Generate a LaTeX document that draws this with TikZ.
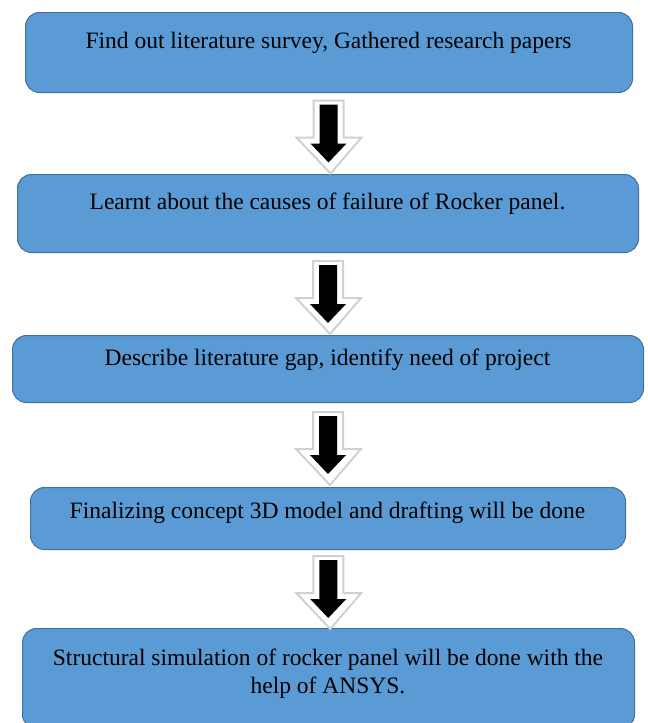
\documentclass[tikz,border=0pt]{standalone}
\usepackage{fontspec}
\setmainfont{Liberation Serif}
\usetikzlibrary{calc}

\definecolor{boxblue}{RGB}{91,155,213}
\definecolor{boxedge}{RGB}{65,113,156}

\tikzset{
  stage/.style={draw=boxedge, line width=1pt, fill=boxblue, rounded corners=14pt,
    anchor=north west, inner sep=0pt},
  stagetext/.style={anchor=base, align=center, inner sep=0pt,
    font=\fontsize{23.5}{28}\selectfont},
  arrowshade/.style={fill=white, draw=black!18, line width=2pt, line join=miter},
  pics/dnarrow/.style={code={
    \filldraw[arrowshade] (-15,-33) -- (15,-33) -- (15,4) -- (33,4) -- (2,40)
      -- (-32,4) -- (-15,4) -- cycle;
    \fill[black] (-9,-29) -- (9,-29) -- (9,10) -- (18,10) -- (0,29)
      -- (-18,10) -- (-9,10) -- cycle;
  }}
}

\begin{document}
\begin{tikzpicture}[x=1pt, y=-1pt]
\clip (0,0) rectangle (648,723);
\fill[white] (0,0) rectangle (648,723);

\node[stage, minimum width=607pt, minimum height=80pt] (box1) at (25,12) {};
\node[stagetext] (t1) at (328.5,48) {Find out literature survey, Gathered research papers};

\node[stage, minimum width=621pt, minimum height=78pt] (box2) at (17,174) {};
\node[stagetext] (t2) at (327.5,209) {Learnt about the causes of failure of Rocker panel.};

\node[stage, minimum width=631pt, minimum height=67pt] (box3) at (12,335) {};
\node[stagetext] (t3) at (327.5,365) {Describe literature gap, identify need of project};

\node[stage, minimum width=595pt, minimum height=62pt] (box4) at (30,487) {};
\node[stagetext] (t4) at (327.5,518) {Finalizing concept 3D model and drafting will be done};

\node[stage, minimum width=612pt, minimum height=100pt] (box5) at (22,628) {};
\node[stagetext] (t5) at (328,693) {Structural simulation of rocker panel will be done with the\\help of ANSYS.};

% block arrows between the stages
\foreach \a/\b in {box1/box2, box2/box3, box3/box4, box4/box5} {
  \pic at ($(\a.south)!0.5!(\b.north)$) {dnarrow};
}
\end{tikzpicture}
\end{document}
